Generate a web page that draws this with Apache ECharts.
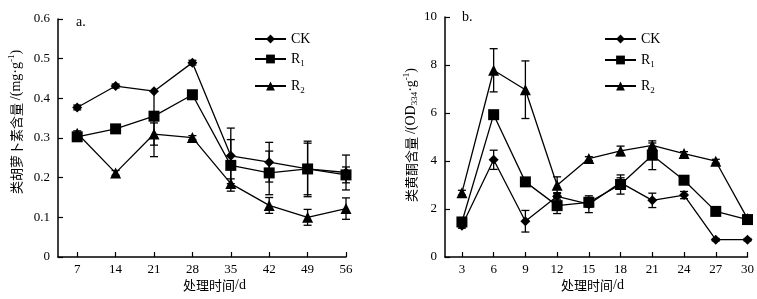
<!DOCTYPE html>
<html>
<head>
<meta charset="utf-8">
<script src="https://cdn.jsdelivr.net/npm/echarts@6/dist/echarts.min.js"></script>
<style>
  html, body { margin: 0; padding: 0; background: #fff; }
  #chart { width: 757px; height: 299px; }
</style>
</head>
<body>
<div id="chart"></div>
<script>
// a. 类胡萝卜素含量
const daysA = [7, 14, 21, 28, 35, 42, 49, 56];
const carCK = [0.377, 0.431, 0.418, 0.490, 0.255, 0.239, 0.222, 0.213];
const carR1 = [0.303, 0.323, 0.355, 0.409, 0.231, 0.212, 0.222, 0.207];
const carR2 = [0.312, 0.212, 0.310, 0.301, 0.185, 0.130, 0.100, 0.122];
// error: number = symmetric, [down, up] otherwise
const carCKErr = [0.006, 0.005, [0.165, 0], 0.006, 0.07, 0.05, 0.07, 0.044];
const carR1Err = [0.008, 0.006, 0.006, 0.008, 0.065, 0.055, 0.065, 0.02];
const carR2Err = [0.006, 0.006, 0.028, 0.005, 0.012, 0.02, 0.02, 0.027];

// b. 类黄酮含量
const daysB = [3, 6, 9, 12, 15, 18, 21, 24, 27, 30];
const flaCK = [1.30, 4.05, 1.49, 2.53, 2.20, 3.10, 2.36, 2.58, 0.72, 0.72];
const flaR1 = [1.46, 5.93, 3.13, 2.14, 2.28, 3.02, 4.24, 3.20, 1.90, 1.56];
const flaR2 = [2.68, 7.78, 6.97, 2.99, 4.10, 4.42, 4.65, 4.31, 3.99, 1.60];
const flaCKErr = [0.1, 0.4, 0.45, 0.15, 0.35, 0.2, 0.3, 0.15, 0.05, 0.05];
const flaR1Err = [0.1, 0.1, 0.15, 0.33, 0.2, 0.4, 0.6, 0.1, 0.1, 0.1];
const flaR2Err = [0.1, 0.9, 1.2, 0.35, 0.08, 0.2, 0.1, 0.08, 0.08, 0.08];

const ticksA = [0, 0.1, 0.2, 0.3, 0.4, 0.5, 0.6];
const ticksB = [0, 2, 4, 6, 8, 10];

const FONT = "'Liberation Serif', 'Noto Sans CJK SC', serif";
const CJK = "'Noto Sans CJK SC', 'Liberation Serif', serif";

const chart = echarts.init(document.getElementById('chart'));

function lineSeries(name, symbol, size, xs, ys, idx) {
  return {
    name: name,
    type: 'line',
    xAxisIndex: idx,
    yAxisIndex: idx,
    data: xs.map((x, i) => [x, ys[i]]),
    symbol: symbol,
    symbolSize: size,
    itemStyle: { color: '#000' },
    lineStyle: { color: '#000', width: 1.3 },
    z: 3
  };
}

function errSeries(xs, ys, errs, idx) {
  return {
    type: 'custom',
    xAxisIndex: idx,
    yAxisIndex: idx,
    silent: true,
    z: 2,
    data: xs.map((x, i) => {
      const e = errs[i];
      const d = Array.isArray(e) ? e[0] : e;
      const u = Array.isArray(e) ? e[1] : e;
      return [x, ys[i] - d, ys[i] + u];
    }),
    encode: { x: 0, y: [1, 2] },
    renderItem(params, api) {
      const lo = api.coord([api.value(0), api.value(1)]);
      const hi = api.coord([api.value(0), api.value(2)]);
      const w = 4;
      const st = { stroke: '#000', lineWidth: 1.3 };
      return {
        type: 'group',
        children: [
          { type: 'line', shape: { x1: lo[0], y1: lo[1], x2: hi[0], y2: hi[1] }, style: st },
          { type: 'line', shape: { x1: lo[0] - w, y1: lo[1], x2: lo[0] + w, y2: lo[1] }, style: st },
          { type: 'line', shape: { x1: hi[0] - w, y1: hi[1], x2: hi[0] + w, y2: hi[1] }, style: st }
        ]
      };
    }
  };
}

const legendRich = {
  r: { fontFamily: FONT, fontSize: 14, color: '#000' },
  s: { fontFamily: FONT, fontSize: 9, color: '#000', padding: [9, 0, 0, 0] }
};
function legendAt(name, left, top) {
  return {
    data: [name],
    left: left,
    top: top,
    padding: 0,
    itemWidth: 31,
    itemHeight: 11,
    selectedMode: false,
    formatter: n => n === 'CK' ? '{r|CK}' : '{r|R}{s|' + n.slice(1) + '}',
    textStyle: { rich: legendRich }
  };
}

function xAxisOf(idx, min, max, vals) {
  return {
    type: 'value',
    gridIndex: idx,
    min: min,
    max: max,
    axisLine: { lineStyle: { color: '#000', width: 1.5 } },
    axisTick: { inside: true, length: 5, customValues: vals, lineStyle: { color: '#000', width: 1.2 } },
    axisLabel: { customValues: vals, color: '#000', fontFamily: FONT, fontSize: 13, margin: 6 },
    splitLine: { show: false }
  };
}
function yAxisOf(idx, min, max, interval, fmt) {
  return {
    type: 'value',
    gridIndex: idx,
    min: min,
    max: max,
    interval: interval,
    axisLine: { show: true, lineStyle: { color: '#000', width: 1.5 } },
    axisTick: { show: true, inside: true, length: 5, lineStyle: { color: '#000', width: 1.2 } },
    axisLabel: { color: '#000', fontFamily: FONT, fontSize: 13, margin: 8, formatter: fmt },
    splitLine: { show: false }
  };
}

const labRich = {
  c: { fontFamily: CJK, fontSize: 13, color: '#000' },
  t: { fontFamily: FONT, fontSize: 14, color: '#000' },
  sup: { fontFamily: FONT, fontSize: 9, color: '#000', padding: [0, 0, 8, 0] },
  sub: { fontFamily: FONT, fontSize: 9, color: '#000', padding: [8, 0, 0, 0] }
};

const option = {
  animation: false,
  backgroundColor: '#fff',
  grid: [
    { left: 58, top: 19, width: 288, height: 238 },
    { left: 445, top: 17, width: 303, height: 240 }
  ],
  xAxis: [
    xAxisOf(0, 3.5, 56, daysA),
    xAxisOf(1, 1.4, 30, daysB)
  ],
  yAxis: [
    yAxisOf(0, ticksA[0], ticksA[ticksA.length - 1], 0.1, v => v === 0 ? '0' : v.toFixed(1)),
    yAxisOf(1, ticksB[0], ticksB[ticksB.length - 1], 2, v => String(v))
  ],
  legend: [
    legendAt('CK', 254, 32),
    legendAt('R1', 254, 52),
    legendAt('R2', 254, 79),
    legendAt('CK', 604, 32),
    legendAt('R1', 604, 53),
    legendAt('R2', 604, 79)
  ],
  graphic: [
    { type: 'text', left: 76, top: 15, style: { text: 'a.', font: '14px ' + FONT, fill: '#000' } },
    { type: 'text', left: 462, top: 10, style: { text: 'b.', font: '14px ' + FONT, fill: '#000' } },
    { type: 'text', left: 183, top: 278, style: { text: '{c|处理时间}{t|/d}', rich: labRich } },
    { type: 'text', left: 561, top: 278, style: { text: '{c|处理时间}{t|/d}', rich: labRich } },
    {
      type: 'text', x: 16, y: 122, rotation: Math.PI / 2,
      style: { text: '{c|类胡萝卜素含量 }{t|/(mg·g}{sup|-1}{t|)}', rich: labRich, align: 'center', verticalAlign: 'middle' }
    },
    {
      type: 'text', x: 411, y: 135, rotation: Math.PI / 2,
      style: { text: '{c|类黄酮含量 }{t|/(OD}{sub|334}{t|·g}{sup|-1}{t|)}', rich: labRich, align: 'center', verticalAlign: 'middle' }
    }
  ],
  series: [
    errSeries(daysA, carCK, carCKErr, 0),
    errSeries(daysA, carR1, carR1Err, 0),
    errSeries(daysA, carR2, carR2Err, 0),
    lineSeries('CK', 'diamond', 10, daysA, carCK, 0),
    lineSeries('R1', 'rect', 11, daysA, carR1, 0),
    lineSeries('R2', 'triangle', 11, daysA, carR2, 0),
    errSeries(daysB, flaCK, flaCKErr, 1),
    errSeries(daysB, flaR1, flaR1Err, 1),
    errSeries(daysB, flaR2, flaR2Err, 1),
    lineSeries('CK', 'diamond', 10, daysB, flaCK, 1),
    lineSeries('R1', 'rect', 11, daysB, flaR1, 1),
    lineSeries('R2', 'triangle', 11, daysB, flaR2, 1)
  ]
};

chart.setOption(option);
</script>
</body>
</html>
